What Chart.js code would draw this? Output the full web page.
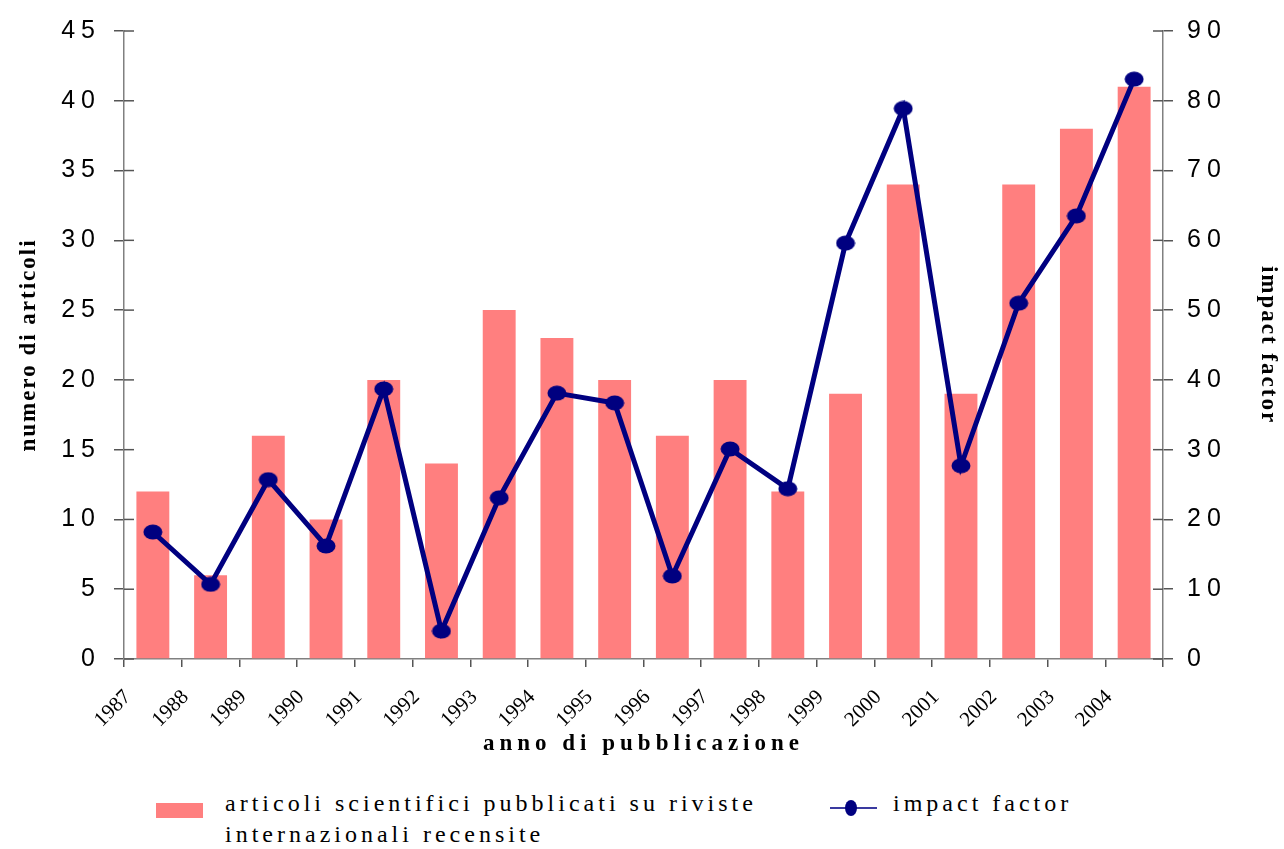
<!DOCTYPE html>
<html lang="it">
<head>
    <meta charset="UTF-8">
    <title>Articoli e impact factor</title>
    <script src="https://cdn.jsdelivr.net/npm/chart.js"></script>
    <style>
        body { margin: 0; background: #fff; width: 1284px; height: 849px; position: relative; overflow: hidden; }
        #chart { position: absolute; left: 0; top: 0; }
        .legend-text { position: absolute; font-family: "Liberation Serif", serif; font-size: 24px; line-height: 31px; letter-spacing: 4px; color: #000; white-space: nowrap; }
        #swatch-bar { position: absolute; left: 156px; top: 803px; width: 47px; height: 15px; background: #ff7f7f; }
        #swatch-line { position: absolute; left: 830px; top: 807px; width: 47px; height: 2px; background: #3a3aa0; }
        #swatch-dot { position: absolute; left: 845px; top: 800px; width: 12px; height: 16px; border-radius: 50%; background: #000080; }
    </style>
</head>
<body>
    <canvas id="chart" width="1284" height="770"></canvas>
    <div id="swatch-bar"></div>
    <div class="legend-text" style="left:225px; top:788px;">articoli scientifici pubblicati su riviste<br>internazionali recensite</div>
    <div id="swatch-line"></div>
    <div id="swatch-dot"></div>
    <div class="legend-text" style="left:893px; top:788px;">impact factor</div>
    <script>
        const years = ['1987', '1988', '1989', '1990', '1991', '1992', '1993', '1994', '1995',
                       '1996', '1997', '1998', '1999', '2000', '2001', '2002', '2003', '2004'];
        const articoli = [12, 6, 16, 10, 20, 14, 25, 23, 20, 16, 20, 12, 19, 34, 19, 34, 38, 41];
        const impactFactor = [18.2, 10.7, 25.7, 16.2, 38.7, 4.0, 23.1, 38.1, 36.7,
                              11.9, 30.1, 24.4, 59.6, 78.9, 27.7, 51.0, 63.5, 83.1];

        // ellipse marker like the original
        const dot = document.createElement('canvas');
        dot.width = 20; dot.height = 16;
        const dctx = dot.getContext('2d');
        dctx.fillStyle = '#000080';
        dctx.beginPath();
        dctx.ellipse(10, 8, 9.5, 7.5, 0, 0, Math.PI * 2);
        dctx.fill();

        const axisGray = '#808080';
        const tickGray = '#555';

        // canvas letter spacing per scale (labels / title)
        const spacing = {
            y: { labels: '6px', title: '2px' },
            y1: { labels: '6px', title: '2px' },
            x: { labels: '0px', title: '5px' }
        };

        function wrapSpacing(scale, name, value) {
            const orig = scale[name];
            scale[name] = function (...args) {
                const ctx = this.ctx;
                const prev = ctx.letterSpacing;
                ctx.letterSpacing = value;
                orig.apply(this, args);
                ctx.letterSpacing = prev;
            };
        }

        const letterSpacingPlugin = {
            id: 'letterSpacing',
            beforeDraw(chart) {
                Object.values(chart.scales).forEach((scale) => {
                    const sp = spacing[scale.id];
                    if (!sp || scale._spaced) return;
                    scale._spaced = true;
                    wrapSpacing(scale, 'drawLabels', sp.labels);
                    wrapSpacing(scale, 'drawTitle', sp.title);
                });
            }
        };

        // y tick marks cross the axis line
        const innerTicks = {
            id: 'innerTicks',
            afterDraw(chart) {
                const ctx = chart.ctx;
                ['y', 'y1'].forEach((id) => {
                    const s = chart.scales[id];
                    const x0 = id === 'y' ? s.right : s.left;
                    const dir = id === 'y' ? 1 : -1;
                    ctx.save();
                    ctx.strokeStyle = tickGray;
                    ctx.lineWidth = 1.5;
                    s.ticks.forEach((t, i) => {
                        const y = s.getPixelForTick(i);
                        ctx.beginPath();
                        ctx.moveTo(x0, y);
                        ctx.lineTo(x0 + dir * 10, y);
                        ctx.stroke();
                    });
                    ctx.restore();
                });
            }
        };

        Chart.defaults.color = '#000';

        const titleFont = { family: 'Liberation Serif', size: 23, weight: 'bold' };

        new Chart(document.getElementById('chart'), {
            type: 'bar',
            data: {
                labels: years,
                datasets: [
                    {
                        type: 'line',
                        label: 'impact factor',
                        data: impactFactor,
                        yAxisID: 'y1',
                        borderColor: '#000080',
                        borderWidth: 5,
                        pointStyle: dot,
                        tension: 0,
                        order: 0
                    },
                    {
                        type: 'bar',
                        label: 'articoli scientifici pubblicati su riviste internazionali recensite',
                        data: articoli,
                        yAxisID: 'y',
                        backgroundColor: '#ff7f7f',
                        barPercentage: 0.57,
                        categoryPercentage: 1,
                        order: 1
                    }
                ]
            },
            options: {
                responsive: false,
                animation: false,
                layout: { padding: { top: 31, left: 0, right: 0, bottom: 0 } },
                plugins: { legend: { display: false }, tooltip: { enabled: false } },
                scales: {
                    x: {
                        offset: true,
                        grid: { offset: true, drawOnChartArea: false, tickLength: 8, color: tickGray, lineWidth: 1.5 },
                        border: { color: axisGray, width: 1.5 },
                        ticks: {
                            font: { family: 'Liberation Serif', size: 21 },
                            minRotation: 45,
                            maxRotation: 45,
                            autoSkip: false,
                            labelOffset: -25,
                            padding: 18
                        },
                        title: {
                            display: true,
                            text: 'anno di pubblicazione',
                            font: titleFont,
                            padding: { top: 0, bottom: 12 }
                        },
                        afterFit(scale) { scale.height = 111; }
                    },
                    y: {
                        position: 'left',
                        min: 0,
                        max: 45,
                        grid: { drawOnChartArea: false, tickLength: 10, color: tickGray, lineWidth: 1.5 },
                        border: { color: axisGray, width: 1.5 },
                        ticks: { stepSize: 5, padding: 13, font: { family: 'Liberation Sans', size: 25 } },
                        title: {
                            display: true,
                            text: 'numero di articoli',
                            font: titleFont,
                            padding: { top: 15, bottom: 0 }
                        },
                        afterFit(scale) { scale.width = 124; }
                    },
                    y1: {
                        position: 'right',
                        min: 0,
                        max: 90,
                        grid: { drawOnChartArea: false, tickLength: 10, color: tickGray, lineWidth: 1.5 },
                        border: { color: axisGray, width: 1.5 },
                        ticks: { stepSize: 10, padding: 14, font: { family: 'Liberation Sans', size: 25 } },
                        title: {
                            display: true,
                            text: 'impact factor',
                            font: titleFont,
                            padding: { top: 2, bottom: 0 }
                        },
                        afterFit(scale) { scale.width = 121; }
                    }
                }
            },
            plugins: [letterSpacingPlugin, innerTicks]
        });
    </script>
</body>
</html>
